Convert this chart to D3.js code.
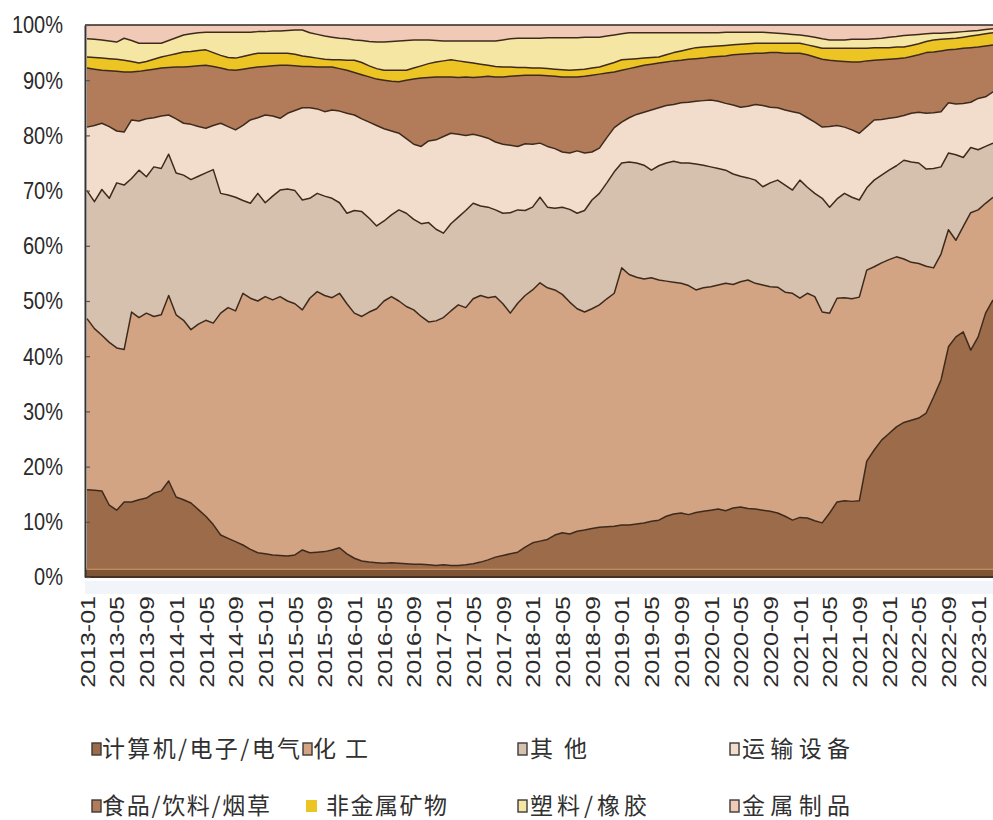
<!DOCTYPE html>
<html>
<head>
<meta charset="utf-8">
<script src="https://cdn.jsdelivr.net/npm/d3@7"></script>
<style>
  body { margin: 0; background: #fff; }
  svg { display: block; }
</style>
</head>
<body>
<svg id="chart" width="993" height="820"></svg>
<script>
// Monthly categories 2013-01 .. 2023-03
const months = d3.timeMonths(new Date(2013, 0, 1), new Date(2023, 3, 1)).map(d3.timeFormat("%Y-%m"));

const tickLabels = [
  "2013-01","2013-05","2013-09","2014-01","2014-05","2014-09","2015-01","2015-05",
  "2015-09","2016-01","2016-05","2016-09","2017-01","2017-05","2017-09","2018-01",
  "2018-05","2018-09","2019-01","2019-05","2019-09","2020-01","2020-05","2020-09",
  "2021-01","2021-05","2021-09","2022-01","2022-05","2022-09","2023-01"
];

const yTicks = [0, 0.1, 0.2, 0.3, 0.4, 0.5, 0.6, 0.7, 0.8, 0.9, 1];

// Share of each sector, in percent, one value per month
const computer = [
  15.8,15.7,15.6,13.0,12.1,13.6,13.6,14.0,14.3,15.2,
  15.6,17.4,14.5,14.0,13.4,12.2,11.0,9.5,7.6,7.0,
  6.4,5.8,5.0,4.4,4.2,4.0,3.9,3.8,4.0,4.9,
  4.4,4.5,4.6,4.9,5.3,4.2,3.4,2.9,2.7,2.6,
  2.5,2.6,2.5,2.4,2.3,2.3,2.2,2.1,2.2,2.1,
  2.1,2.2,2.4,2.7,3.1,3.6,3.9,4.2,4.5,5.4,
  6.2,6.5,6.8,7.6,8.0,7.8,8.3,8.5,8.8,9.0,
  9.1,9.2,9.4,9.4,9.6,9.8,10.1,10.3,11.0,11.4,
  11.6,11.3,11.7,11.9,12.1,12.3,12.0,12.5,12.7,12.4,
  12.3,12.1,11.9,11.6,11.0,10.3,10.8,10.7,10.2,9.8,
  11.6,13.6,13.8,13.7,13.8,21.0,23.0,24.8,26.0,27.2,
  28.0,28.4,28.8,29.7,32.6,35.7,41.7,43.5,44.4,41.1,
  43.5,47.8,50.2
];
const chemical = [
  31.0,29.3,28.2,29.5,29.4,27.6,34.4,33.0,33.5,32.0,
  31.9,33.6,33.0,32.5,31.4,33.6,35.5,36.5,40.2,41.8,
  41.8,45.6,45.5,45.6,46.6,46.2,46.9,46.2,45.5,43.5,
  46.1,47.2,46.4,45.7,46.1,45.3,44.4,44.3,45.3,46.0,
  47.5,48.2,47.5,46.6,46.1,44.9,44.0,44.3,44.8,46.1,
  47.2,46.6,48.0,48.3,47.5,47.2,45.6,43.6,45.1,45.6,
  45.8,46.8,45.6,44.4,43.2,42.0,40.3,39.5,39.8,40.3,
  41.3,42.2,46.6,45.4,44.7,44.2,44.1,43.5,42.6,42.0,
  41.6,41.5,40.3,40.5,40.5,40.6,41.2,40.5,40.8,41.4,
  40.9,40.8,40.7,40.9,40.6,41.1,39.7,40.7,40.6,38.2,
  36.2,36.9,36.8,36.7,36.9,34.6,33.2,32.1,31.5,30.8,
  29.6,28.6,28.0,26.6,23.4,22.8,21.2,17.5,19.1,24.9,
  23.0,19.9,18.6
];
const other = [
  23.2,23.0,26.4,26.1,29.9,29.8,24.2,26.7,24.7,27.1,
  26.5,25.6,25.7,26.3,27.2,26.8,26.7,27.8,21.7,20.4,
  20.6,16.8,17.2,19.5,17.0,18.8,19.3,20.3,20.5,19.9,
  18.1,17.8,18.0,18.0,16.4,16.4,18.6,19.0,17.0,15.0,
  14.5,14.8,16.5,16.9,16.4,16.8,18.0,16.6,15.3,15.8,
  15.9,17.6,17.3,16.2,16.4,15.7,16.4,18.2,16.9,15.4,
  15.0,15.5,14.6,14.8,15.8,16.8,17.3,18.4,19.7,20.2,
  21.0,22.0,19.0,20.4,20.7,20.6,19.5,20.7,21.4,21.9,
  21.8,22.2,22.8,22.2,21.7,21.1,20.5,20.0,19.1,18.5,
  18.7,17.8,18.8,19.4,19.4,18.7,21.4,19.2,18.7,20.6,
  19.2,18.0,18.9,18.4,17.6,14.9,15.7,15.9,16.2,16.5,
  17.9,18.2,18.2,17.6,18.0,15.8,13.9,15.5,12.5,11.8,
  10.9,10.3,9.8
];
const transport = [
  11.5,13.8,12.0,13.0,9.4,9.6,10.6,8.9,10.5,8.9,
  9.5,7.1,9.8,9.4,10.0,9.0,8.1,8.0,12.7,12.4,
  12.2,13.6,15.1,13.7,15.9,14.5,13.0,13.7,14.5,16.7,
  16.4,15.3,15.3,16.0,16.6,18.1,17.3,16.8,17.4,18.2,
  16.7,15.2,13.9,13.5,13.6,14.0,14.8,16.2,17.5,16.4,
  15.0,13.6,12.5,12.7,12.5,12.3,12.5,12.2,11.5,12.1,
  11.4,9.8,11.0,10.8,10.0,10.2,11.3,10.4,8.7,8.2,
  8.2,8.0,7.4,8.0,8.8,9.6,10.9,10.5,10.4,10.3,
  10.9,11.0,11.4,11.7,12.1,12.2,12.1,12.5,12.5,13.0,
  13.7,14.7,13.7,13.1,13.6,14.2,12.1,12.6,12.9,12.9,
  14.6,13.3,12.0,12.2,12.1,11.1,10.9,10.1,9.4,8.8,
  8.1,8.8,9.2,10.1,10.1,10.0,9.1,9.2,9.8,8.2,
  9.3,9.0,9.3
];
const food = [
  10.7,10.2,9.6,10.1,10.8,10.9,8.7,9.0,8.8,8.8,
  8.7,8.6,9.4,10.2,10.5,11.0,11.4,10.7,10.0,10.3,
  10.8,10.2,9.4,9.2,8.8,9.1,9.6,8.7,8.1,7.5,
  7.5,7.6,8.1,7.8,7.7,7.8,7.7,8.0,8.2,8.4,
  8.8,9.0,9.3,10.6,11.8,12.4,11.5,11.4,10.8,10.2,
  10.3,10.6,10.3,10.7,11.2,11.8,12.2,12.5,12.8,12.4,
  12.5,12.3,12.8,13.1,13.6,13.8,13.4,13.9,13.9,13.4,
  11.7,10.1,9.4,8.9,8.6,8.5,8.3,8.1,7.9,7.9,
  7.7,7.8,7.7,7.7,7.8,8.1,8.6,9.1,9.6,9.5,
  9.3,9.5,9.9,10.0,10.3,10.6,10.9,11.4,11.8,12.3,
  12.0,11.7,11.9,12.3,12.9,11.9,10.8,10.8,10.7,10.6,
  10.4,10.3,10.4,11.0,11.0,11.0,9.6,9.9,10.0,9.9,
  9.3,9.2,8.5
];
const nonmetal = [
  2.0,2.1,2.2,2.2,2.2,2.1,1.9,1.5,1.6,1.8,
  2.0,2.2,2.4,2.7,2.7,2.8,2.8,2.5,2.3,2.2,
  2.2,2.3,2.4,2.5,2.4,2.3,2.2,2.2,2.1,1.9,
  1.7,1.6,1.4,1.3,1.6,1.8,2.2,2.2,2.0,1.9,
  1.8,2.0,2.1,1.8,2.0,2.2,2.5,2.7,2.9,3.1,
  3.0,2.7,2.6,2.3,2.0,1.9,1.8,1.7,1.5,1.4,
  1.3,1.3,1.3,1.3,1.3,1.2,1.3,1.3,1.3,1.3,
  1.5,1.7,1.9,1.7,1.5,1.3,1.2,1.1,1.3,1.5,
  1.7,1.8,2.0,2.0,1.9,1.9,1.9,1.8,1.8,1.8,
  1.8,1.8,1.7,1.7,1.8,1.8,1.8,1.8,1.9,2.0,
  2.2,2.3,2.4,2.5,2.5,2.3,2.3,2.2,2.1,2.1,
  2.0,2.0,2.0,2.0,2.2,2.1,2.0,2.0,2.0,2.1,
  2.2,2.2,2.2
];
const plastic = [
  3.3,3.3,3.3,3.2,3.1,4.0,3.8,3.6,3.3,2.9,
  2.5,2.7,2.9,3.1,3.2,3.2,3.2,3.7,4.2,4.6,
  4.7,4.4,4.1,3.9,3.9,4.0,4.0,4.1,4.4,4.7,
  4.4,4.3,4.2,4.1,3.9,3.9,3.7,4.0,4.4,4.8,
  5.1,5.2,5.3,5.4,5.1,4.7,4.3,3.9,3.6,3.4,
  3.6,3.8,4.0,4.2,4.4,4.6,4.9,5.1,5.3,5.3,
  5.4,5.4,5.6,5.7,5.8,5.9,5.8,5.8,5.6,5.4,
  5.2,5.0,4.7,4.8,4.7,4.6,4.5,4.4,4.0,3.6,
  3.3,3.0,2.7,2.6,2.5,2.4,2.4,2.3,2.2,2.1,
  2.0,2.0,1.9,1.8,1.7,1.6,1.5,1.6,1.7,1.7,
  1.5,1.5,1.5,1.6,1.6,1.6,1.6,1.7,1.9,1.9,
  2.1,1.9,1.7,1.4,1.2,1.1,1.1,1.1,1.0,0.9,
  0.8,0.8,0.7
];
const metal = [
  2.5,2.6,2.7,2.9,3.1,2.4,2.8,3.3,3.3,3.3,
  3.3,2.8,2.3,1.8,1.6,1.4,1.3,1.3,1.3,1.3,
  1.3,1.3,1.3,1.2,1.2,1.1,1.1,1.0,0.9,0.9,
  1.4,1.7,2.0,2.2,2.4,2.5,2.7,2.8,3.0,3.1,
  3.1,3.0,2.9,2.8,2.7,2.7,2.7,2.8,2.9,2.9,
  2.9,2.9,2.9,2.9,2.9,2.9,2.7,2.5,2.4,2.4,
  2.4,2.4,2.3,2.3,2.3,2.3,2.3,2.2,2.2,2.2,
  2.0,1.8,1.6,1.4,1.4,1.4,1.4,1.4,1.4,1.4,
  1.4,1.4,1.4,1.4,1.4,1.4,1.3,1.3,1.3,1.3,
  1.3,1.3,1.4,1.5,1.6,1.7,1.8,2.0,2.2,2.5,
  2.7,2.7,2.7,2.6,2.6,2.6,2.5,2.4,2.2,2.1,
  1.9,1.8,1.7,1.6,1.5,1.5,1.4,1.3,1.2,1.1,
  1.0,0.8,0.7
];

// Stack order, bottom to top
const series = [
  { key: "computer",  name: "计算机/电子/电气", values: computer,  color: "#9c6b49" },
  { key: "chemical",  name: "化工",             values: chemical,  color: "#d3a483" },
  { key: "other",     name: "其他",             values: other,     color: "#d6c1af" },
  { key: "transport", name: "运输设备",         values: transport, color: "#f2ddcc" },
  { key: "food",      name: "食品/饮料/烟草",   values: food,      color: "#b27c5a" },
  { key: "nonmetal",  name: "非金属矿物",       values: nonmetal,  color: "#ecc424" },
  { key: "plastic",   name: "塑料/橡胶",        values: plastic,   color: "#f6e6a4" },
  { key: "metal",     name: "金属制品",         values: metal,     color: "#f1cab7" }
];

const svg = d3.select("#chart");
const plot = { left: 85, top: 25, right: 993, bottom: 577 };

const x = d3.scalePoint().domain(months).range([87, 993]);
const y = d3.scaleLinear().domain([0, 1]).range([plot.bottom, plot.top]);

const rows = months.map((m, i) => {
  const r = { month: m };
  series.forEach(s => { r[s.key] = s.values[i]; });
  return r;
});
const layers = d3.stack().keys(series.map(s => s.key)).offset(d3.stackOffsetExpand)(rows);

svg.append("rect").attr("width", 993).attr("height", 820).attr("fill", "#ffffff");

svg.append("defs").append("clipPath").attr("id", "plotClip")
  .append("rect")
  .attr("x", plot.left).attr("y", plot.top)
  .attr("width", plot.right - plot.left).attr("height", plot.bottom - plot.top);

// faint band under the plot
svg.append("rect")
  .attr("x", plot.left).attr("y", plot.bottom + 4)
  .attr("width", plot.right - plot.left).attr("height", 13)
  .attr("fill", "#f1f5f9");

const g = svg.append("g").attr("clip-path", "url(#plotClip)");

const area = d3.area()
  .x(d => x(d.data.month))
  .y0(d => y(d[0]))
  .y1(d => y(d[1]));

g.selectAll("path.layer")
  .data(layers)
  .join("path")
  .attr("class", "layer")
  .attr("fill", (d, i) => series[i].color)
  .attr("d", area);

const edge = d3.line()
  .x(d => x(d.data.month))
  .y(d => y(d[1]));

g.selectAll("path.edge")
  .data(layers.slice(0, -1))
  .join("path")
  .attr("class", "edge")
  .attr("fill", "none")
  .attr("stroke", "#3e2a1c")
  .attr("stroke-width", 1.5)
  .attr("stroke-linejoin", "round")
  .attr("d", edge);

// base strip along the 0% line
g.append("rect")
  .attr("x", plot.left).attr("y", y(0.014))
  .attr("width", plot.right - plot.left).attr("height", y(0) - y(0.014))
  .attr("fill", "#7d5535");
g.append("line")
  .attr("x1", plot.left).attr("x2", plot.right)
  .attr("y1", y(0.014)).attr("y2", y(0.014))
  .attr("stroke", "#d59a6a").attr("stroke-width", 1);

// frame: top line, left axis, bottom line
svg.append("line")
  .attr("x1", plot.left).attr("x2", plot.right)
  .attr("y1", plot.top).attr("y2", plot.top)
  .attr("stroke", "#2f2620").attr("stroke-width", 1.6);
svg.append("line")
  .attr("x1", plot.left).attr("x2", plot.right)
  .attr("y1", plot.bottom).attr("y2", plot.bottom)
  .attr("stroke", "#4a3020").attr("stroke-width", 2);

// y axis
const yAxis = svg.append("g")
  .attr("transform", `translate(${plot.left},0)`)
  .call(d3.axisLeft(y).tickValues(yTicks).tickFormat(d3.format(".0%")).tickSize(0).tickPadding(22));
yAxis.select(".domain").attr("stroke", "#333").attr("stroke-width", 2);
yAxis.selectAll("text")
  .attr("font-family", "'Liberation Sans', Arial, sans-serif")
  .attr("font-size", 20)
  .attr("fill", "#2a2a2a")
  .attr("transform", "scale(1,1.22)");
yAxis.selectAll(".tick").append("line")
  .attr("x1", 1).attr("x2", 5)
  .attr("stroke", "#555").attr("stroke-width", 1.2);

// x axis
const xAxis = svg.append("g")
  .attr("transform", `translate(0,${plot.bottom})`)
  .call(d3.axisBottom(x).tickValues(tickLabels).tickSize(0));
xAxis.select(".domain").remove();
xAxis.selectAll("text")
  .attr("y", null)
  .attr("dy", "0.36em")
  .attr("text-anchor", "end")
  .attr("font-family", "'Liberation Sans', Arial, sans-serif")
  .attr("font-size", 20)
  .attr("fill", "#2a2a2a")
  .attr("transform", "translate(0,19) rotate(-90) scale(1.25,1)");

// legend
const legendItems = [
  { key: "computer",  sx: 92,  tx: 102, tw: 198, row: 0 },
  { key: "chemical",  sx: 303, tx: 313, tw: 55,  row: 0 },
  { key: "other",     sx: 518, tx: 530, tw: 57,  row: 0 },
  { key: "transport", sx: 730, tx: 742, tw: 108, row: 0 },
  { key: "food",      sx: 92,  tx: 102, tw: 168, row: 1 },
  { key: "nonmetal",  sx: 306, tx: 326, tw: 121, row: 1 },
  { key: "plastic",   sx: 518, tx: 530, tw: 117, row: 1 },
  { key: "metal",     sx: 730, tx: 742, tw: 108, row: 1 }
];
const rowY = [749, 806];
const byKey = Object.fromEntries(series.map(s => [s.key, s]));

const legend = svg.append("g");
const li = legend.selectAll("g.item").data(legendItems).join("g").attr("class", "item");
li.append("rect")
  .attr("x", d => d.sx)
  .attr("y", d => rowY[d.row] - 6)
  .attr("width", d => d.key === "nonmetal" ? 11 : 9)
  .attr("height", 12)
  .attr("fill", d => byKey[d.key].color)
  .attr("stroke", d => d.key === "nonmetal" ? "none" : "#3a3a3a")
  .attr("stroke-width", 1.4);
li.append("text")
  .attr("x", d => d.tx)
  .attr("y", rowY[0])
  .attr("y", d => rowY[d.row])
  .attr("dy", "0.36em")
  .attr("font-family", "'Noto Sans CJK SC', sans-serif")
  .attr("font-size", 23)
  .attr("fill", "#303030")
  .attr("textLength", d => d.tw)
  .attr("lengthAdjust", "spacing")
  .text(d => byKey[d.key].name);
</script>
</body>
</html>
